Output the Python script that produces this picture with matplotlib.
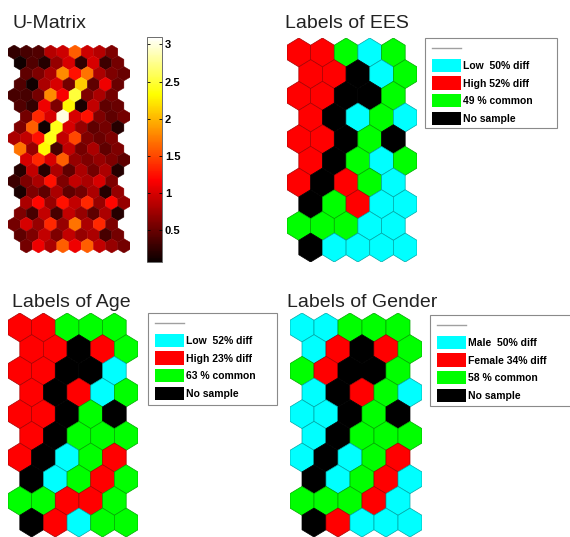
import numpy as np
import matplotlib
matplotlib.use("Agg")
import matplotlib.pyplot as plt
from matplotlib.patches import RegularPolygon, Rectangle
from matplotlib.colors import Normalize, to_rgb
from matplotlib.cm import ScalarMappable

plt.rcParams['font.family'] = ['Liberation Sans', 'DejaVu Sans']

# U-matrix values (19 rows x 9 cols, top row first)
umat = [
    [0.25, 0.35, 0.4, 0.85, 0.95, 1.6, 0.95, 0.85, 0.6],
    [0.1, 0.4, 0.2, 0.7, 1.0, 0.25, 1.0, 0.3, 0.55],
    [0.45, 0.6, 0.8, 1.8, 1.25, 1.7, 0.8, 0.6, 0.5],
    [0.4, 0.1, 0.8, 1.0, 0.55, 2.1, 0.45, 1.1, 0.5],
    [0.35, 0.35, 0.55, 1.8, 1.15, 2.5, 0.6, 0.8, 0.55],
    [0.4, 0.25, 1.1, 0.6, 2.3, 0.15, 0.9, 0.45, 0.5],
    [0.55, 1.35, 1.0, 3.0, 1.0, 1.25, 0.6, 0.45, 0.55],
    [0.6, 1.6, 0.1, 2.4, 1.0, 0.7, 0.45, 0.55, 0.2],
    [0.8, 0.9, 1.25, 2.4, 0.9, 1.5, 0.6, 0.5, 0.6],
    [1.7, 0.7, 2.3, 0.35, 0.9, 0.55, 0.8, 0.45, 0.6],
    [1.0, 1.35, 1.0, 1.6, 0.7, 0.6, 0.7, 0.6, 0.45],
    [0.2, 0.9, 0.2, 0.8, 0.45, 0.8, 0.55, 0.8, 0.2],
    [0.3, 0.6, 0.8, 1.25, 0.6, 0.9, 0.8, 1.0, 0.6],
    [0.15, 0.6, 0.45, 0.8, 0.45, 0.55, 0.8, 0.2, 0.7],
    [0.8, 1.2, 0.7, 1.25, 0.9, 1.35, 0.7, 1.2, 0.7],
    [0.6, 0.35, 0.9, 0.35, 0.9, 0.7, 0.45, 0.8, 0.2],
    [0.55, 1.0, 0.7, 1.35, 0.7, 1.7, 0.8, 1.35, 0.6],
    [0.45, 0.6, 0.9, 0.6, 0.9, 0.7, 0.8, 0.35, 0.55],
    [0.55, 1.1, 0.8, 1.6, 1.1, 1.6, 0.9, 0.7, 0.55],
]
umat_range = (0.07, 3.1)
cbar_ticks = [0.5, 1, 1.5, 2, 2.5, 3]
cbar_ticklabels = ['0.5', '1', '1.5', '2', '2.5', '3']

# label maps (10 rows x 5 cols): C=cyan, R=red, G=green, K=no sample
ees_map = ["RRGCG", "RRKCG", "RRKKG", "RKCGC", "RRKGK",
           "RKGCG", "RKRGC", "KGRCC", "GGGCC", "KCCCC"]
age_map = ["RRGGG", "RRKRG", "RRKKC", "RKRCG", "RRKGK",
           "RKGGG", "RKCGR", "KCGRG", "GGRRG", "KRCGG"]
gender_map = ["CCGGG", "CRKRG", "GRKKG", "CKRGC", "CCKGK",
              "CKGGG", "CKCGR", "KCGRC", "GGGRC", "KRCCC"]

ees_labels = ["Low  50% diff", "High 52% diff", "49 % common", "No sample"]
age_labels = ["Low  52% diff", "High 23% diff", "63 % common", "No sample"]
gender_labels = ["Male  50% diff", "Female 34% diff", "58 % common", "No sample"]

code_colors = {'C': '#00ffff', 'R': '#ff0000', 'G': '#00ff00', 'K': '#000000'}
legend_order = ['C', 'R', 'G', 'K']

W, H = 570, 537
fig = plt.figure(figsize=(W / 100, H / 100), dpi=100)

R3 = np.sqrt(3)
rad = 1 / R3


def px_axes(x0, y0, x1, y1):
    return fig.add_axes([x0 / W, 1 - y1 / H, (x1 - x0) / W, (y1 - y0) / H])


def darker(c, f=0.65):
    r, g, b = to_rgb(c)
    return (r * f, g * f, b * f)


# U-matrix
ax = px_axes(8, 45, 130, 253)
cmap = plt.get_cmap('hot')
norm = Normalize(*umat_range)
offsets = [0.0, 0.5, 1.0, 0.5]
for r, row in enumerate(umat):
    for j, v in enumerate(row):
        col = cmap(norm(v))
        ax.add_patch(RegularPolygon((j + offsets[r % 4], -r * R3 / 2), 6, radius=rad,
                                    facecolor=col, edgecolor=col, linewidth=0.3))
ax.set_xlim(-0.5, 9.5)
ax.set_ylim(-(len(umat) - 1) * R3 / 2 - rad, rad)
ax.axis('off')

cax = px_axes(147, 37, 162, 262)
cb = fig.colorbar(ScalarMappable(norm=norm, cmap=cmap), cax=cax)
cb.set_ticks(cbar_ticks)
cb.set_ticklabels(cbar_ticklabels)
cax.yaxis.set_ticks_position('both')
cax.tick_params(axis='y', direction='in', length=2.5, width=0.6, labelsize=8,
                pad=2, labelleft=False, labelright=True)
for t in cax.get_yticklabels():
    t.set_fontweight('bold')
cb.outline.set_linewidth(0.6)
cb.outline.set_edgecolor('#555555')


def label_map(rows, box):
    a = px_axes(*box)
    for r, row in enumerate(rows):
        for j, code in enumerate(row):
            fc = code_colors[code]
            a.add_patch(RegularPolygon((j + 0.5 * (r % 2), -r * R3 / 2), 6, radius=rad,
                                       facecolor=fc, edgecolor=darker(fc), linewidth=0.5))
    a.set_xlim(-0.5, 5.0)
    a.set_ylim(-(len(rows) - 1) * R3 / 2 - rad, rad)
    a.axis('off')


label_map(ees_map, (287, 38, 417, 262))
label_map(age_map, (8, 313, 138, 537))
label_map(gender_map, (290, 313, 422, 537))

# overlay in pixel coordinates for titles and legend boxes
ov = fig.add_axes([0, 0, 1, 1])
ov.set_xlim(0, W)
ov.set_ylim(H, 0)
ov.axis('off')

titles = ["U-Matrix", "Labels of EES", "Labels of Age", "Labels of Gender"]
title_pos = [(12, 28), (285, 28), (12, 307), (287, 307)]
for t, (tx, ty) in zip(titles, title_pos):
    ov.text(tx, ty, t, fontsize=14, ha='left', va='baseline', color='#222222')


def legend_box(x0, y0, x1, y1, labels):
    ov.add_patch(Rectangle((x0, y0), x1 - x0, y1 - y0, facecolor='white',
                           edgecolor='#8a8a8a', linewidth=0.8))
    lx = x0 + 7
    ov.plot([lx, lx + 29], [y0 + 9.5, y0 + 9.5], color='#a0a0a0', linewidth=1.0)
    for k, (code, lab) in enumerate(zip(legend_order, labels)):
        top = y0 + 20.5 + k * 17.7
        ov.add_patch(Rectangle((lx, top), 29, 13.5, facecolor=code_colors[code],
                               edgecolor='none'))
        ov.text(lx + 31, top + 7.5, lab, fontsize=7.5, fontweight='bold',
                ha='left', va='center', color='black')


legend_box(425, 38, 557, 128, ees_labels)
legend_box(148, 313, 277, 405, age_labels)
legend_box(430, 315, 580, 406, gender_labels)

fig.savefig("out.png", dpi=100)
